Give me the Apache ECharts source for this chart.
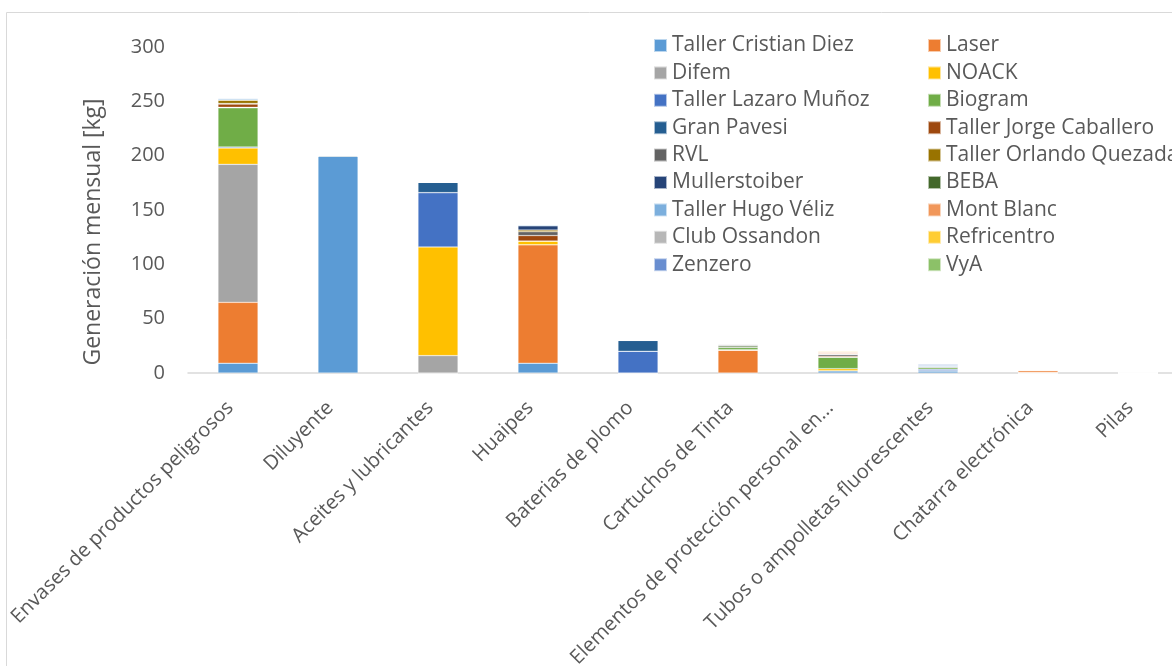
<!DOCTYPE html>
<html><head><meta charset="utf-8">
<script src="https://cdn.jsdelivr.net/npm/echarts@6/dist/echarts.min.js"></script>
<style>html,body{margin:0;padding:0;background:#fff}#c{width:1172px;height:666px}</style>
</head><body><div id="c"></div>
<script>
const categories = ["Envases de productos peligrosos","Diluyente","Aceites y lubricantes","Huaipes","Baterias de plomo","Cartuchos de Tinta","Elementos de protección personal en...","Tubos o ampolletas fluorescentes","Chatarra electrónica","Pilas"];
const yTicks = [0, 50, 100, 150, 200, 250, 300];

const tallerCristianDiez = [9, 200, 0, 9, 0, 0, 2, 2, 0, 0];
const laser              = [56, 0, 0, 109, 0, 21, 0, 0, 0, 0];
const difem              = [127, 0, 16, 0, 0, 0, 0, 0, 0, 0];
const noack              = [15, 0, 100, 3.5, 0, 0.5, 2, 0, 0, 0];
const tallerLazaroMunoz  = [1, 0, 50, 0, 20, 0, 0, 1.5, 0, 0];
const biogram            = [36, 0, 0, 0, 0, 2, 10.5, 1.5, 0.5, 0];
const granPavesi         = [0.5, 0, 9.5, 0, 10, 0, 0, 0, 0, 0];
const tallerJorgeCaballero = [3, 0, 0, 5, 0, 0, 1, 0, 0, 0];
const rvl                = [0.5, 0, 0, 3.5, 0, 0, 1.5, 1, 0, 0];
const tallerOrlandoQuezada = [3, 0, 0, 1.5, 0, 0, 0.5, 0, 0, 0];
const mullerstoiber      = [0.5, 0, 0, 4, 0, 0, 0, 0, 0, 0];
const beba               = [0, 0, 0, 0, 0, 1.5, 0.5, 0, 0, 0];
const tallerHugoVeliz    = [1.5, 0, 0, 1, 0, 0, 0, 1, 0, 0.8];
const montBlanc          = [0, 0, 0, 0, 0, 0, 1, 0, 2, 0];
const clubOssandon       = [0, 0, 0, 0, 0, 1.5, 0, 0, 0, 0];
const refricentro        = [0, 0, 0, 0, 0, 0, 1, 0, 0, 0];
const zenzero            = [0, 0, 0, 0, 0, 0, 0, 1, 0, 0];
const vya                = [0, 0, 0, 0, 0, 0, 0, 0, 0, 0];

const seriesNames = ["Taller Cristian Diez","Laser","Difem","NOACK","Taller Lazaro Muñoz","Biogram","Gran Pavesi","Taller Jorge Caballero","RVL","Taller Orlando Quezada","Mullerstoiber","BEBA","Taller Hugo Véliz","Mont Blanc","Club Ossandon","Refricentro","Zenzero","VyA"];
const seriesData = [tallerCristianDiez, laser, difem, noack, tallerLazaroMunoz, biogram, granPavesi, tallerJorgeCaballero, rvl, tallerOrlandoQuezada, mullerstoiber, beba, tallerHugoVeliz, montBlanc, clubOssandon, refricentro, zenzero, vya];
const colors = ["#5B9BD5","#ED7D31","#A5A5A5","#FFC000","#4472C4","#70AD47","#255E91","#9E480E","#636363","#997300","#264478","#43682B","#7CAFDD","#F1975A","#B7B7B7","#FFCD33","#698ED0","#8CC168"];

const FONT = "'Open Sans', 'Noto Sans', sans-serif";
const TXT = "#595959";

const leftNames = seriesNames.filter((_, i) => i % 2 === 0);
const rightNames = seriesNames.filter((_, i) => i % 2 === 1);

function legendCfg(left, data) {
  return {
    orient: 'vertical', left: left, top: 30, data: data,
    icon: 'rect', itemWidth: 13, itemHeight: 13, itemGap: 6.4,
    selectedMode: false,
    textStyle: { fontFamily: FONT, fontSize: 21, color: TXT, lineHeight: 20 }
  };
}

const chart = echarts.init(document.getElementById('c'), null, { renderer: 'canvas' });
chart.setOption({
  animation: false,
  color: colors,
  textStyle: { fontFamily: FONT },
  graphic: [{ type: 'rect', shape: { x: 6.5, y: 12.5, width: 1300, height: 800 }, style: { fill: 'none', stroke: '#D9D9D9', lineWidth: 1 }, silent: true }],
  legend: [legendCfg(648, leftNames), legendCfg(922, rightNames)],
  grid: { left: 188, top: 47, height: 326, width: 1000, containLabel: false, outerBoundsMode: 'none' },
  xAxis: {
    type: 'category', data: categories,
    axisTick: { show: false },
    axisLine: { lineStyle: { color: '#D9D9D9', width: 1.5 } },
    axisLabel: { interval: 0, rotate: 45, margin: 24, fontFamily: FONT, fontSize: 20, color: TXT, padding: [0, 11, 0, 0] }
  },
  yAxis: {
    type: 'value', min: yTicks[0], max: yTicks[yTicks.length - 1], interval: 50,
    splitLine: { show: false },
    axisLine: { show: false }, axisTick: { show: false },
    axisLabel: { margin: 23, fontFamily: FONT, fontSize: 20, color: TXT },
    name: 'Generación mensual [kg]', nameLocation: 'middle', nameGap: 83,
    nameTextStyle: { fontFamily: FONT, fontSize: 23, color: TXT, padding: [0, 44, 0, 0] }
  },
  series: seriesNames.map((n, i) => ({
    name: n, type: 'bar', stack: 'total', barWidth: 40,
    data: seriesData[i],
    itemStyle: { color: colors[i], borderColor: 'rgba(255,255,255,0.6)', borderWidth: 0.5 }
  }))
});
</script></body></html>
